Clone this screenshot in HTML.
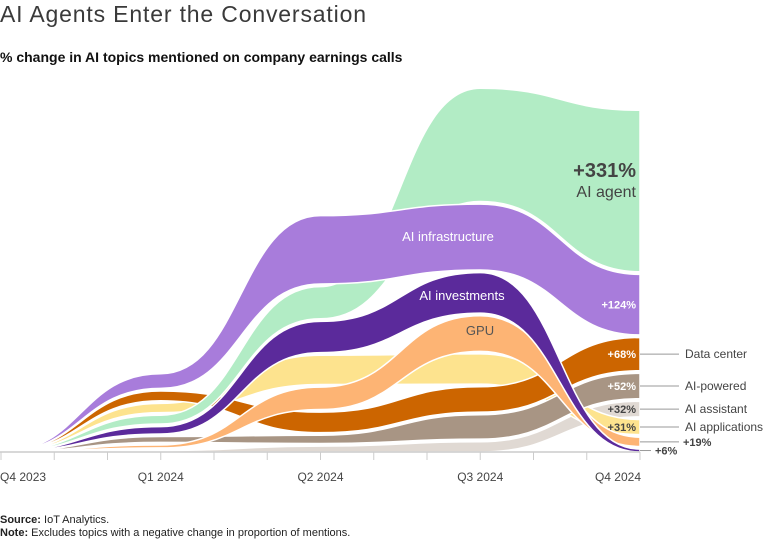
<!DOCTYPE html>
<html><head><meta charset="utf-8"><style>
body{margin:0;background:#fff;width:768px;height:539px;overflow:hidden;font-family:"Liberation Sans",sans-serif}
svg{position:absolute;left:0;top:0}
</style></head><body>
<svg id="c" width="768" height="539" viewBox="0 0 768 539">
<text x="0" y="22" font-size="23" fill="#3a3a3a" textLength="366">AI Agents Enter the Conversation</text>
<text x="0" y="62" font-size="14" font-weight="bold" fill="#111">% change in AI topics mentioned on company earnings calls</text>
<g id="bands"></g>
<g id="axis"></g>
<g id="labels"></g>
<text x="0" y="523" font-size="11" fill="#222"><tspan font-weight="bold">Source:</tspan> IoT Analytics.</text>
<text x="0" y="536" font-size="11" fill="#222"><tspan font-weight="bold">Note:</tspan> Excludes topics with a negative change in proportion of mentions.</text>
</svg>
<script>
const quarters = ["Q4 2023","Q1 2024","Q2 2024","Q3 2024","Q4 2024"];
const seriesNames = ["AI agent","AI infrastructure","AI investments","GPU","Data center","AI-powered","AI assistant","AI applications"];
const seriesColors = ["#b2ecc5","#a87cdb","#5b2a9b","#fdb474","#cc6500","#a89584","#e0d9d3","#fde38e"];
const agentVals = [0,18,66,232,331];
const infraVals = [0,30,140,135,124];
const investVals = [0,15,64,83,6];
const gpuVals = [0,6,46,73,19];
const dataCenterVals = [0,20,42,52,68];
const poweredVals = [0,12,17,50,52];
const assistantVals = [0,3,12,21,32];
const applicationsVals = [0,19,60,62,31];
const allVals = [agentVals,infraVals,investVals,gpuVals,dataCenterVals,poweredVals,assistantVals,applicationsVals];

const NS="http://www.w3.org/2000/svg";
const baseY=452, scale=0.488, gap=2.6;
const xOf = i => 1 + i*159.75;
const hOf = v => v*scale;

const tops=allVals.map(()=>[]), bots=allVals.map(()=>[]);
quarters.forEach((q,i)=>{
  const order=allVals.map((s,k)=>k).sort((a,b)=>allVals[a][i]-allVals[b][i]);
  let y=baseY;
  order.forEach((k,j)=>{
    const v=allVals[k][i];
    bots[k][i]=y; y-=hOf(v); tops[k][i]=y;
    if(v>0) y-=gap;
  });
});
function curve(ys,rev){
  let idx=ys.map((_,i)=>i); if(rev) idx.reverse();
  let d="";
  idx.forEach((i,n)=>{
    if(n===0){d+=(rev?"L":"M")+xOf(i)+","+ys[i];return;}
    const p=idx[n-1], mx=(xOf(p)+xOf(i))/2;
    d+=`C${mx},${ys[p]} ${mx},${ys[i]} ${xOf(i)},${ys[i]}`;
  });
  return d;
}
const gb=document.getElementById("bands");
const drawOrder=[6,7,5,4,3,0,1,2];
drawOrder.forEach(k=>{
  const p=document.createElementNS(NS,"path");
  p.setAttribute("d",curve(tops[k],false)+curve(bots[k],true)+"Z");
  p.setAttribute("fill",seriesColors[k]);
  p.setAttribute("stroke","#fff");
  p.setAttribute("stroke-width","1.5");
  
  
  gb.appendChild(p);
});
const ga=document.getElementById("axis");
const ax=document.createElementNS(NS,"line");
ax.setAttribute("x1",0);ax.setAttribute("x2",xOf(4));ax.setAttribute("y1",baseY);ax.setAttribute("y2",baseY);
ax.setAttribute("stroke","#ccc");ax.setAttribute("stroke-width","1.5");


ga.appendChild(ax);
for(let m=0;m<=12;m++){
  const x=xOf(m/3);
  const t=document.createElementNS(NS,"line");
  t.setAttribute("x1",x);t.setAttribute("x2",x);t.setAttribute("y1",baseY);t.setAttribute("y2",baseY+8);
  t.setAttribute("stroke","#ccc");
  
  
  ga.appendChild(t);
}
quarters.forEach((q,i)=>{
  const t=document.createElementNS(NS,"text");
  let x=xOf(i), anchor="middle";
  if(i===0){x=0;anchor="start";} if(i===4){x=xOf(4)+1;anchor="end";}
  t.setAttribute("x",x);t.setAttribute("y",481);t.setAttribute("font-size","12");
  t.setAttribute("fill","#444");t.setAttribute("text-anchor",anchor);
  t.textContent=q;
  
  
  ga.appendChild(t);
});
const gl=document.getElementById("labels");
function txt(x,y,s,size,fill,anchor,bold,name){
  const t=document.createElementNS(NS,"text");
  t.setAttribute("x",x);t.setAttribute("y",y);t.setAttribute("font-size",size);
  t.setAttribute("fill",fill);t.setAttribute("text-anchor",anchor);
  if(bold)t.setAttribute("font-weight","bold");
  t.textContent=s;
  
  
  gl.appendChild(t);
}
function line(x1,y,x2,name){
  const l=document.createElementNS(NS,"line");
  l.setAttribute("x1",x1);l.setAttribute("x2",x2);l.setAttribute("y1",y);l.setAttribute("y2",y);
  l.setAttribute("stroke","#999");
  
  
  gl.appendChild(l);
}
const xe=xOf(4);
const mid=k=>(tops[k][4]+bots[k][4])/2;
txt(636,177,"+"+agentVals[4]+"%",20,"#444","end",true,"agent-value");
txt(636,197,"AI agent",16,"#444","end",false,"agent-label");
txt(448,241,"AI infrastructure",13,"#fff","middle",false,"infrastructure-label");
txt(462,300,"AI investments",13,"#fff","middle",false,"investments-label");
txt(480,335,"GPU",13,"#555","middle",false,"gpu-label");
txt(636,mid(1)+4,"+"+infraVals[4]+"%",11,"#fff","end",true,"infrastructure-value");
txt(636,mid(4)+4,"+"+dataCenterVals[4]+"%",11,"#fff","end",true,"data-center-value");
txt(636,mid(5)+4,"+"+poweredVals[4]+"%",11,"#fff","end",true,"ai-powered-value");
txt(636,mid(6)+4,"+"+assistantVals[4]+"%",11,"#444","end",true,"ai-assistant-value");
txt(636,mid(7)+4,"+"+applicationsVals[4]+"%",11,"#444","end",true,"ai-applications-value");
line(xe,mid(4),679,"data-center-leader");txt(685,mid(4)+4,"Data center",12,"#444","start",false,"data-center-label");
line(xe,mid(5),679,"ai-powered-leader");txt(685,mid(5)+4,"AI-powered",12,"#444","start",false,"ai-powered-label");
line(xe,mid(6),679,"ai-assistant-leader");txt(685,mid(6)+4,"AI assistant",12,"#444","start",false,"ai-assistant-label");
line(xe,mid(7),679,"ai-applications-leader");txt(685,mid(7)+4,"AI applications",12,"#444","start",false,"ai-applications-label");
line(xe,mid(3),679,"gpu-leader");txt(683,mid(3)+4,"+"+gpuVals[4]+"%",11,"#444","start",true,"gpu-value");
line(xe,mid(2),651,"investments-leader");txt(655,mid(2)+4,"+"+investVals[4]+"%",11,"#444","start",true,"investments-value");
</script>
</body></html>
